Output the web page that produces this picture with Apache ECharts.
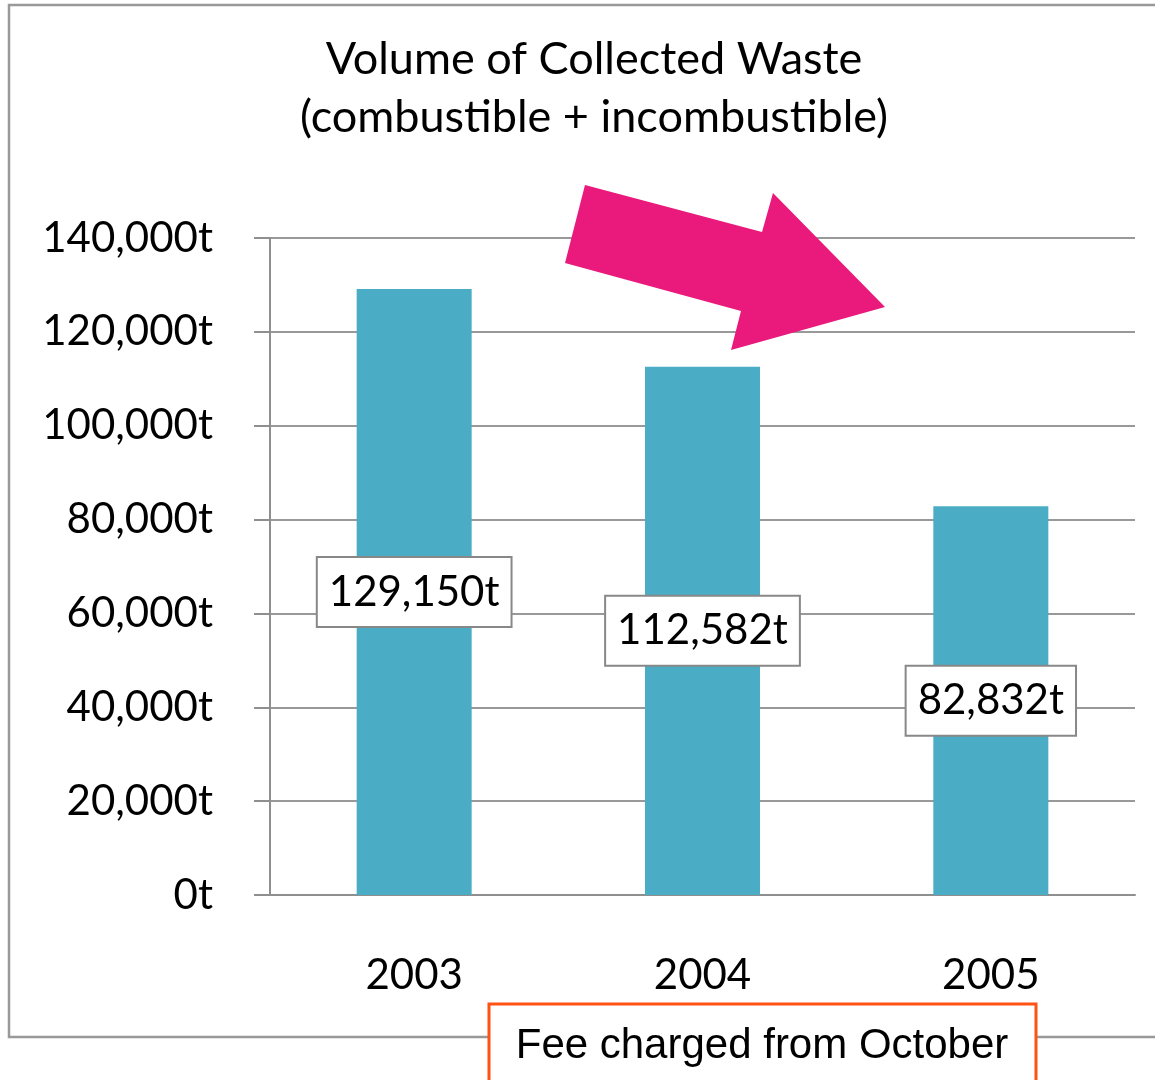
<!DOCTYPE html>
<html>
<head>
<meta charset="utf-8">
<script src="https://cdn.jsdelivr.net/npm/echarts@6/dist/echarts.min.js"></script>
<style>
    html, body { margin: 0; padding: 0; background: #fff; }
    #chart { width: 1155px; height: 1080px; }
</style>
</head>
<body>
<div id="chart"></div>
<script>

const years = ['2003', '2004', '2005'];
const wasteTonnes = [129150, 112582, 82832];
const unitSuffix = 't';
const titleLines = ['Volume of Collected Waste', '(combustible + incombustible)'];
const noteText = 'Fee charged from October';

const fmt = v => v.toLocaleString('en-US') + unitSuffix;

const chart = echarts.init(document.getElementById('chart'));

const gray = '#8f8f8f';

const option = {
    animation: false,
    backgroundColor: '#fff',
    title: {
        text: titleLines.join('\n'),
        left: 589,
        top: 25,
        textAlign: 'center',
        textStyle: {
            fontFamily: 'Lato',
            fontSize: 45,
            fontWeight: 'normal',
            lineHeight: 58,
            color: '#000'
        }
    },
    grid: {
        left: 270,
        right: 20,
        top: 238,
        bottom: 185
    },
    xAxis: {
        type: 'category',
        data: years,
        axisLine: { lineStyle: { color: gray, width: 2 } },
        axisTick: { length: 15, lineStyle: { color: gray, width: 2 } },
        axisLabel: {
            margin: 59,
            fontFamily: 'Lato',
            fontSize: 42,
            lineHeight: 42,
            color: '#000'
        }
    },
    yAxis: {
        type: 'value',
        min: 0,
        max: 140000,
        interval: 20000,
        axisLine: { show: true, lineStyle: { color: gray, width: 2 } },
        axisTick: { show: true, length: 16, lineStyle: { color: gray, width: 2 } },
        splitLine: { lineStyle: { color: '#999', width: 2 } },
        axisLabel: {
            margin: 57,
            fontFamily: 'Lato',
            fontSize: 42,
            color: '#000',
            formatter: fmt
        }
    },
    series: [
        {
            type: 'bar',
            data: wasteTonnes,
            barWidth: 115,
            itemStyle: { color: '#4BACC6' },
            emphasis: { disabled: true },
            label: {
                show: true,
                position: 'inside',
                formatter: p => fmt(p.value),
                fontFamily: 'Lato',
                fontSize: 42,
                lineHeight: 46,
                color: '#000',
                backgroundColor: '#fff',
                borderColor: '#888',
                borderWidth: 2,
                padding: [12, 11, 10, 11]
            }
        }
    ],
    graphic: [
        {
            type: 'rect',
            z: 0,
            silent: true,
            shape: { x: 9, y: 5, width: 1200, height: 1032 },
            style: { fill: 'none', stroke: '#999', lineWidth: 2.5 }
        },
        {
            type: 'polygon',
            z: 100,
            silent: true,
            shape: {
                points: [[585, 185], [762, 232], [773, 193], [885, 307], [731, 350], [741, 311], [565, 263]]
            },
            style: { fill: '#EA197C' }
        },
        {
            type: 'rect',
            z: 100,
            silent: true,
            shape: { x: 489, y: 1004, width: 547, height: 100 },
            style: { fill: '#fff', stroke: '#FF5314', lineWidth: 3 }
        },
        {
            type: 'text',
            z: 101,
            silent: true,
            x: 762,
            y: 1046,
            style: {
                text: noteText,
                fontFamily: 'Liberation Sans',
                fontSize: 42,
                fill: '#000',
                align: 'center',
                verticalAlign: 'middle'
            }
        }
    ]
};

option && chart.setOption(option);

</script>
</body>
</html>
